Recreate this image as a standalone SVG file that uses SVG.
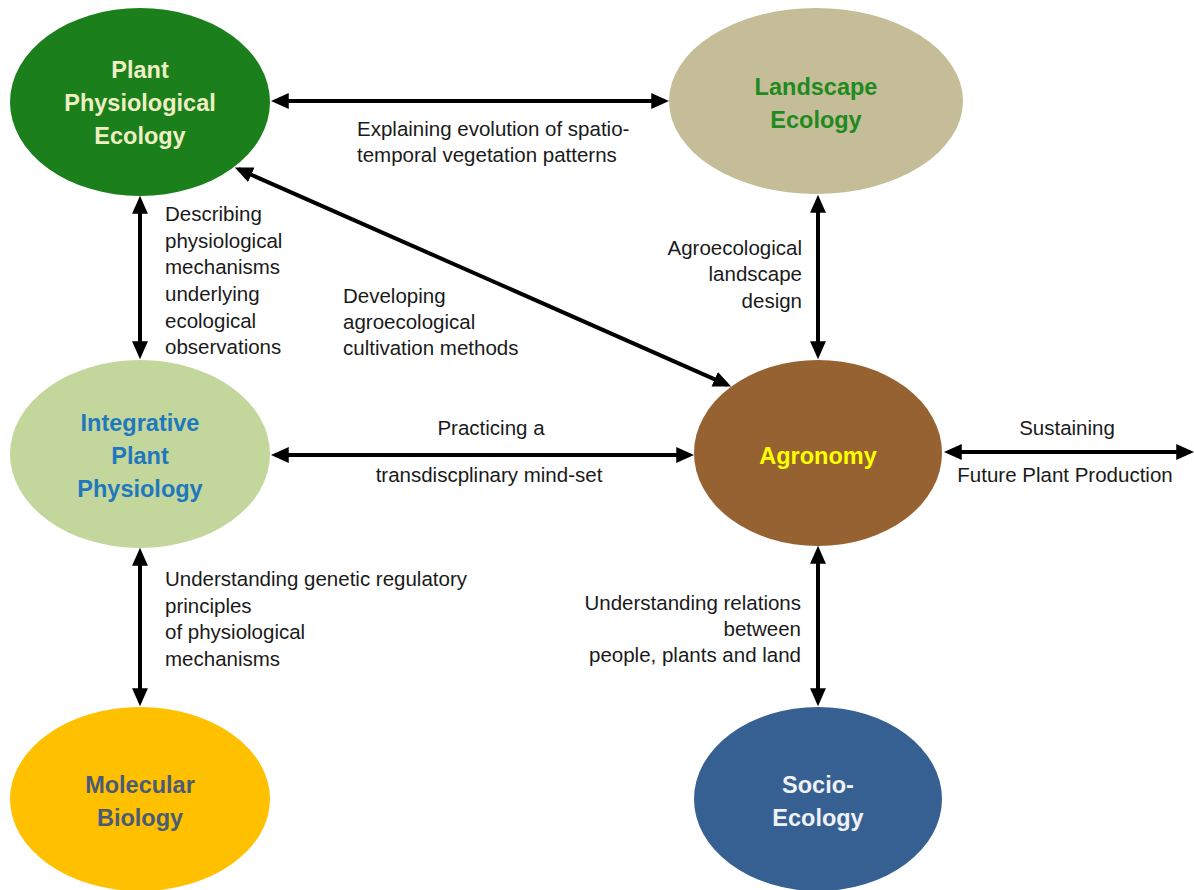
<svg xmlns="http://www.w3.org/2000/svg" width="1194" height="890" viewBox="0 0 1194 890">
<defs>
<marker id="ah" markerUnits="userSpaceOnUse" markerWidth="18" markerHeight="16" viewBox="0 0 17 15" refX="13" refY="7.5" orient="auto-start-reverse">
<path d="M0,0 L17,7.5 L0,15 z" fill="#000"/>
</marker>
<style>
.t{font-family:"Liberation Sans",Arial,sans-serif;font-weight:bold;font-size:23.5px;text-anchor:middle}
.l{font-family:"Liberation Sans",Arial,sans-serif;font-size:20.5px;fill:#1a1a1a}
.c{stroke:#000;stroke-width:4;fill:none;marker-start:url(#ah);marker-end:url(#ah)}
</style>
</defs>
<rect width="1194" height="890" fill="#fff"/>
<g id="ppe">
<ellipse cx="140" cy="102" rx="130" ry="94" fill="#1b7f1b"/>
<text class="t" fill="#eef0c4"><tspan x="140" y="78">Plant</tspan><tspan x="140" y="111">Physiological</tspan><tspan x="140" y="144">Ecology</tspan></text>
</g>
<g id="landscape">
<ellipse cx="816" cy="101" rx="147" ry="93" fill="#c4bd97"/>
<text class="t" fill="#1f8a1f"><tspan x="816" y="95">Landscape</tspan><tspan x="816" y="128">Ecology</tspan></text>
</g>
<g id="integrative">
<ellipse cx="140" cy="454" rx="130" ry="94" fill="#c3d69b"/>
<text class="t" fill="#1f78bd"><tspan x="140" y="431">Integrative</tspan><tspan x="140" y="464">Plant</tspan><tspan x="140" y="497">Physiology</tspan></text>
</g>
<g id="agronomy">
<ellipse cx="818" cy="453" rx="124" ry="93" fill="#976232"/>
<text class="t" fill="#ffff00"><tspan x="818" y="464">Agronomy</tspan></text>
</g>
<g id="molecular">
<ellipse cx="140" cy="799" rx="130" ry="92" fill="#ffc000"/>
<text class="t" fill="#4a5b78"><tspan x="140" y="793">Molecular</tspan><tspan x="140" y="826">Biology</tspan></text>
</g>
<g id="socio">
<ellipse cx="818" cy="799" rx="124" ry="92" fill="#376092"/>
<text class="t" fill="#eef2f6"><tspan x="818" y="793">Socio-</tspan><tspan x="818" y="826">Ecology</tspan></text>
</g>
<g id="connectors">
<line class="c" x1="275" y1="101" x2="665" y2="101"/>
<line class="c" x1="140" y1="200" x2="140" y2="355"/>
<line class="c" x1="238.7" y1="169.2" x2="727.3" y2="384.8"/>
<line class="c" x1="818" y1="199" x2="818" y2="355"/>
<line class="c" x1="275" y1="455" x2="690" y2="455"/>
<line class="c" x1="948" y1="452" x2="1190" y2="452"/>
<line class="c" x1="140" y1="552" x2="140" y2="702"/>
<line class="c" x1="818" y1="550" x2="818" y2="702"/>
</g>
<g id="labels">
<text class="l"><tspan x="357" y="136">Explaining evolution of spatio-</tspan><tspan x="357" y="162">temporal vegetation patterns</tspan></text>
<text class="l"><tspan x="165" y="221">Describing</tspan><tspan x="165" y="248">physiological</tspan><tspan x="165" y="274">mechanisms</tspan><tspan x="165" y="301">underlying</tspan><tspan x="165" y="328">ecological</tspan><tspan x="165" y="354">observations</tspan></text>
<text class="l"><tspan x="343" y="303">Developing</tspan><tspan x="343" y="329">agroecological</tspan><tspan x="343" y="355">cultivation methods</tspan></text>
<text class="l" text-anchor="end"><tspan x="802" y="255">Agroecological</tspan><tspan x="802" y="281">landscape</tspan><tspan x="802" y="308">design</tspan></text>
<text class="l" text-anchor="middle"><tspan x="491" y="435">Practicing a</tspan><tspan x="489" y="482">transdiscplinary mind-set</tspan></text>
<text class="l" text-anchor="middle"><tspan x="1067" y="435">Sustaining</tspan><tspan x="1065" y="482">Future Plant Production</tspan></text>
<text class="l"><tspan x="165" y="586">Understanding genetic regulatory</tspan><tspan x="165" y="613">principles</tspan><tspan x="165" y="639">of physiological</tspan><tspan x="165" y="666">mechanisms</tspan></text>
<text class="l" text-anchor="end"><tspan x="801" y="610">Understanding relations</tspan><tspan x="801" y="636">between</tspan><tspan x="801" y="662">people, plants and land</tspan></text>
</g>
</svg>
